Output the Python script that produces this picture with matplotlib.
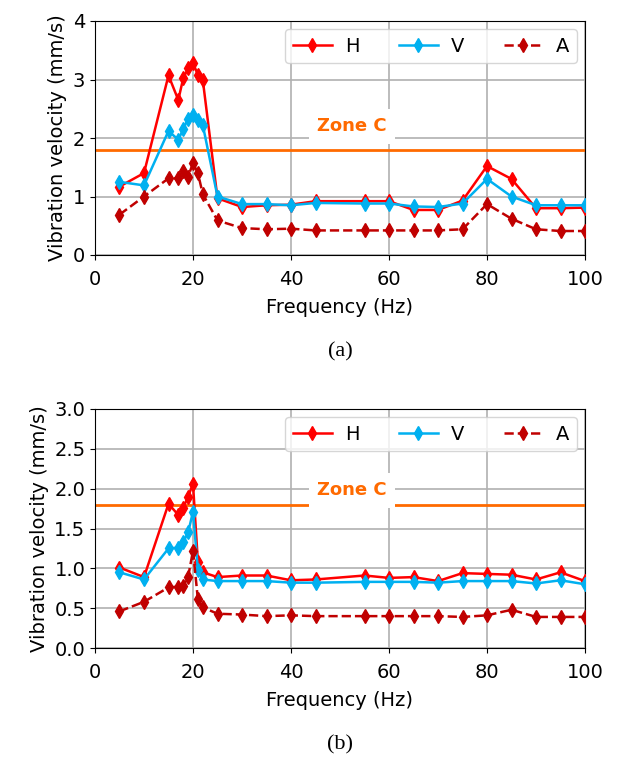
import numpy as np
import matplotlib.pyplot as plt

# frequency points (Hz)
freq_a = [5, 10, 15, 17, 18, 19, 20, 21, 22, 25, 30, 35, 40, 45, 55, 60, 65, 70, 75, 80, 85, 90, 95, 100]
h_a = [1.17, 1.40, 3.07, 2.65, 3.02, 3.19, 3.28, 3.08, 2.99, 0.97, 0.82, 0.85, 0.86, 0.92,
       0.92, 0.92, 0.77, 0.77, 0.93, 1.52, 1.30, 0.80, 0.80, 0.81]
v_a = [1.25, 1.19, 2.12, 1.97, 2.15, 2.33, 2.40, 2.31, 2.22, 1.00, 0.87, 0.87, 0.85, 0.89,
       0.88, 0.88, 0.83, 0.82, 0.88, 1.30, 1.00, 0.85, 0.85, 0.85]
a_a = [0.69, 1.00, 1.31, 1.31, 1.44, 1.34, 1.57, 1.40, 1.04, 0.59, 0.46, 0.44, 0.45, 0.42,
       0.42, 0.42, 0.42, 0.42, 0.44, 0.87, 0.62, 0.44, 0.41, 0.41]

freq_b = [5, 10, 15, 17, 18, 19, 20, 21, 22, 25, 30, 35, 40, 45, 55, 60, 65, 70, 75, 80, 85, 90, 95, 100]
h_b = [1.01, 0.89, 1.81, 1.67, 1.76, 1.90, 2.06, 1.08, 0.95, 0.89, 0.91, 0.91, 0.85, 0.86,
       0.91, 0.88, 0.89, 0.84, 0.94, 0.93, 0.92, 0.86, 0.95, 0.84]
v_b = [0.95, 0.86, 1.25, 1.26, 1.33, 1.45, 1.71, 0.98, 0.86, 0.84, 0.84, 0.84, 0.82, 0.82,
       0.83, 0.83, 0.83, 0.82, 0.84, 0.84, 0.84, 0.81, 0.85, 0.80]
a_b = [0.46, 0.58, 0.76, 0.77, 0.78, 0.89, 1.22, 0.61, 0.51, 0.43, 0.42, 0.40, 0.41, 0.40,
       0.40, 0.40, 0.40, 0.40, 0.39, 0.41, 0.48, 0.39, 0.39, 0.39]

zone_c = 1.8
zone_text_y = [2.2, 1.98]
ylims = [(0, 4), (0, 3)]
ytick_sets = [np.arange(0, 4.1, 1), np.arange(0, 3.01, 0.5)]
panel_tags = ['(a)', '(b)']

plt.rcParams['font.size'] = 14

fig = plt.figure(figsize=(6.19, 7.64), dpi=100)
W, H = 619, 764
boxes = [(95, 21, 585, 255), (95, 409, 585, 648)]
datasets = [(freq_a, h_a, v_a, a_a), (freq_b, h_b, v_b, a_b)]
tag_y = [352, 745]

for i in range(2):
    l, t, r, b = boxes[i]
    ax = fig.add_axes([l / W, 1 - b / H, (r - l) / W, (b - t) / H])
    f, h, v, a = datasets[i]
    ax.grid(True, color='#b0b0b0', lw=1.2, zorder=0)
    ax.axhline(zone_c, color='#ff6a00', lw=2, zorder=2)
    ax.text(52.5, zone_text_y[i], 'Zone C', color='#ff6a00', fontweight='bold',
            ha='center', va='center', fontsize=13, zorder=3,
            bbox=dict(facecolor='white', edgecolor='none', pad=6))
    ax.plot(f, h, '-', color='#ff0000', marker='d', ms=7.5, lw=1.8, label='H', zorder=4)
    ax.plot(f, v, '-', color='#00b0f0', marker='d', ms=7.5, lw=1.8, label='V', zorder=4)
    ax.plot(f, a, '--', color='#c00000', marker='d', ms=7.5, lw=1.8, label='A', zorder=4)
    ax.set_xlim(0, 100)
    ax.set_ylim(*ylims[i])
    ax.set_xticks(np.arange(0, 101, 20))
    ax.set_yticks(ytick_sets[i])
    if i == 1:
        ax.set_yticklabels([f'{y:.1f}' for y in ytick_sets[i]])
    ax.tick_params(axis='x', pad=7)
    ax.set_xlabel('Frequency (Hz)', labelpad=7)
    ax.set_ylabel('Vibration velocity (mm/s)', labelpad=4)
    ax.legend(loc='upper right', ncol=3, handlelength=2.0, columnspacing=2.0,
              handletextpad=0.7, fontsize=14, framealpha=0.8,
              borderaxespad=0.4)
    fig.text(0.5 * (l + r) / W, 1 - tag_y[i] / H, panel_tags[i],
             family='Liberation Serif', fontsize=16, ha='center', va='center')

fig.savefig('out.png', dpi=100)
